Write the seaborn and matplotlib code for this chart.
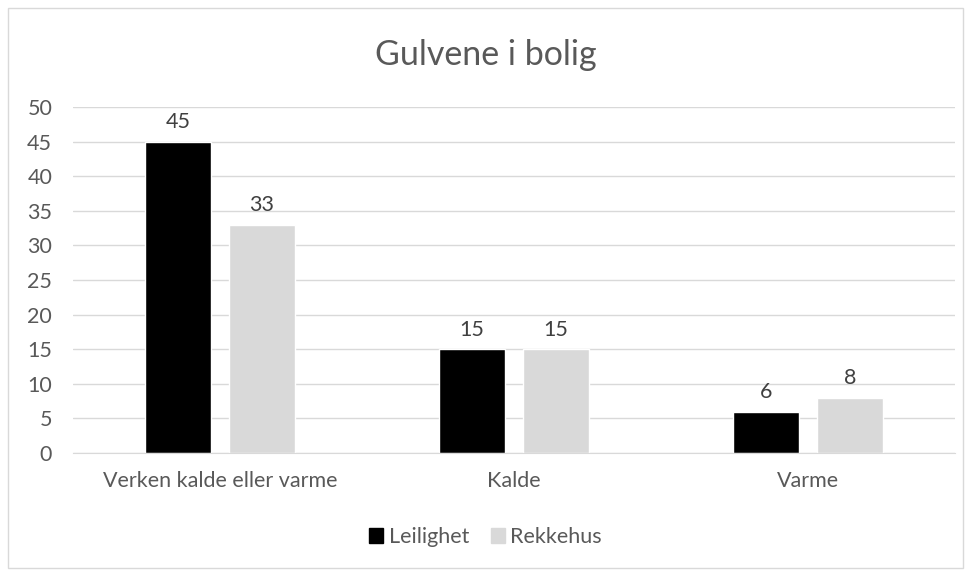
import numpy as np
import pandas as pd
import seaborn as sns
import matplotlib.pyplot as plt
from matplotlib.patches import Rectangle

categories = ["Verken kalde eller varme", "Kalde", "Varme"]
leilighet = [45, 15, 6]
rekkehus = [33, 15, 8]
series = ["Leilighet", "Rekkehus"]

df = pd.DataFrame({
  "kategori": categories * 2,
  "verdi": leilighet + rekkehus,
  "bolig": [series[0]] * 3 + [series[1]] * 3,
})

sns.set_style("white")
plt.rcParams['font.family'] = ['Lato', 'DejaVu Sans']

text_col = "#595959"
grid_col = "#d9d9d9"

fig = plt.figure(figsize=(9.71, 5.76), dpi=100)
ax = fig.add_axes([0.0752, 0.2135, 0.9083, 0.6007])

sns.barplot(data=df, x="kategori", y="verdi", hue="bolig",
            palette=["#000000", "#d9d9d9"], width=0.571, gap=0.214,
            ax=ax, legend=False, saturation=1)

# value labels on top of bars
for cont in ax.containers:
  ax.bar_label(cont, fontsize=15.5, color="#404040", padding=7)

ax.set_ylim(0, 50)
ax.set_xlim(-0.5, 2.5)
ax.set_yticks(np.arange(0, 51, 5))
ax.yaxis.grid(True, color=grid_col, linewidth=1)
ax.set_axisbelow(True)
for s in ["top", "right", "left"]:
  ax.spines[s].set_visible(False)
ax.spines["bottom"].set_color(grid_col)
ax.tick_params(axis="both", length=0, labelsize=15.5, labelcolor=text_col)
ax.tick_params(axis="x", pad=13)
ax.tick_params(axis="y", pad=15)
ax.set_xlabel("")
ax.set_ylabel("")

fig.text(0.5, 1 - 55 / 576, "Gulvene i bolig", ha="center", va="center",
         fontsize=24.5, color=text_col)

handles = [Rectangle((0, 0), 1, 1, color="#000000"),
           Rectangle((0, 0), 1, 1, color="#d9d9d9")]
fig.legend(handles, series, loc="center", bbox_to_anchor=(0.5, 1 - 537 / 576),
           ncol=2, frameon=False, fontsize=15.5, handlelength=0.65, handleheight=0.65,
           handletextpad=0.25, columnspacing=1.0, labelcolor=text_col)

# chart border
fig.patches.append(Rectangle((8 / 971, 8 / 576), 955 / 971, 560 / 576,
                             transform=fig.transFigure, fill=False,
                             edgecolor=grid_col, linewidth=1))

plt.savefig("out.png", dpi=100)
